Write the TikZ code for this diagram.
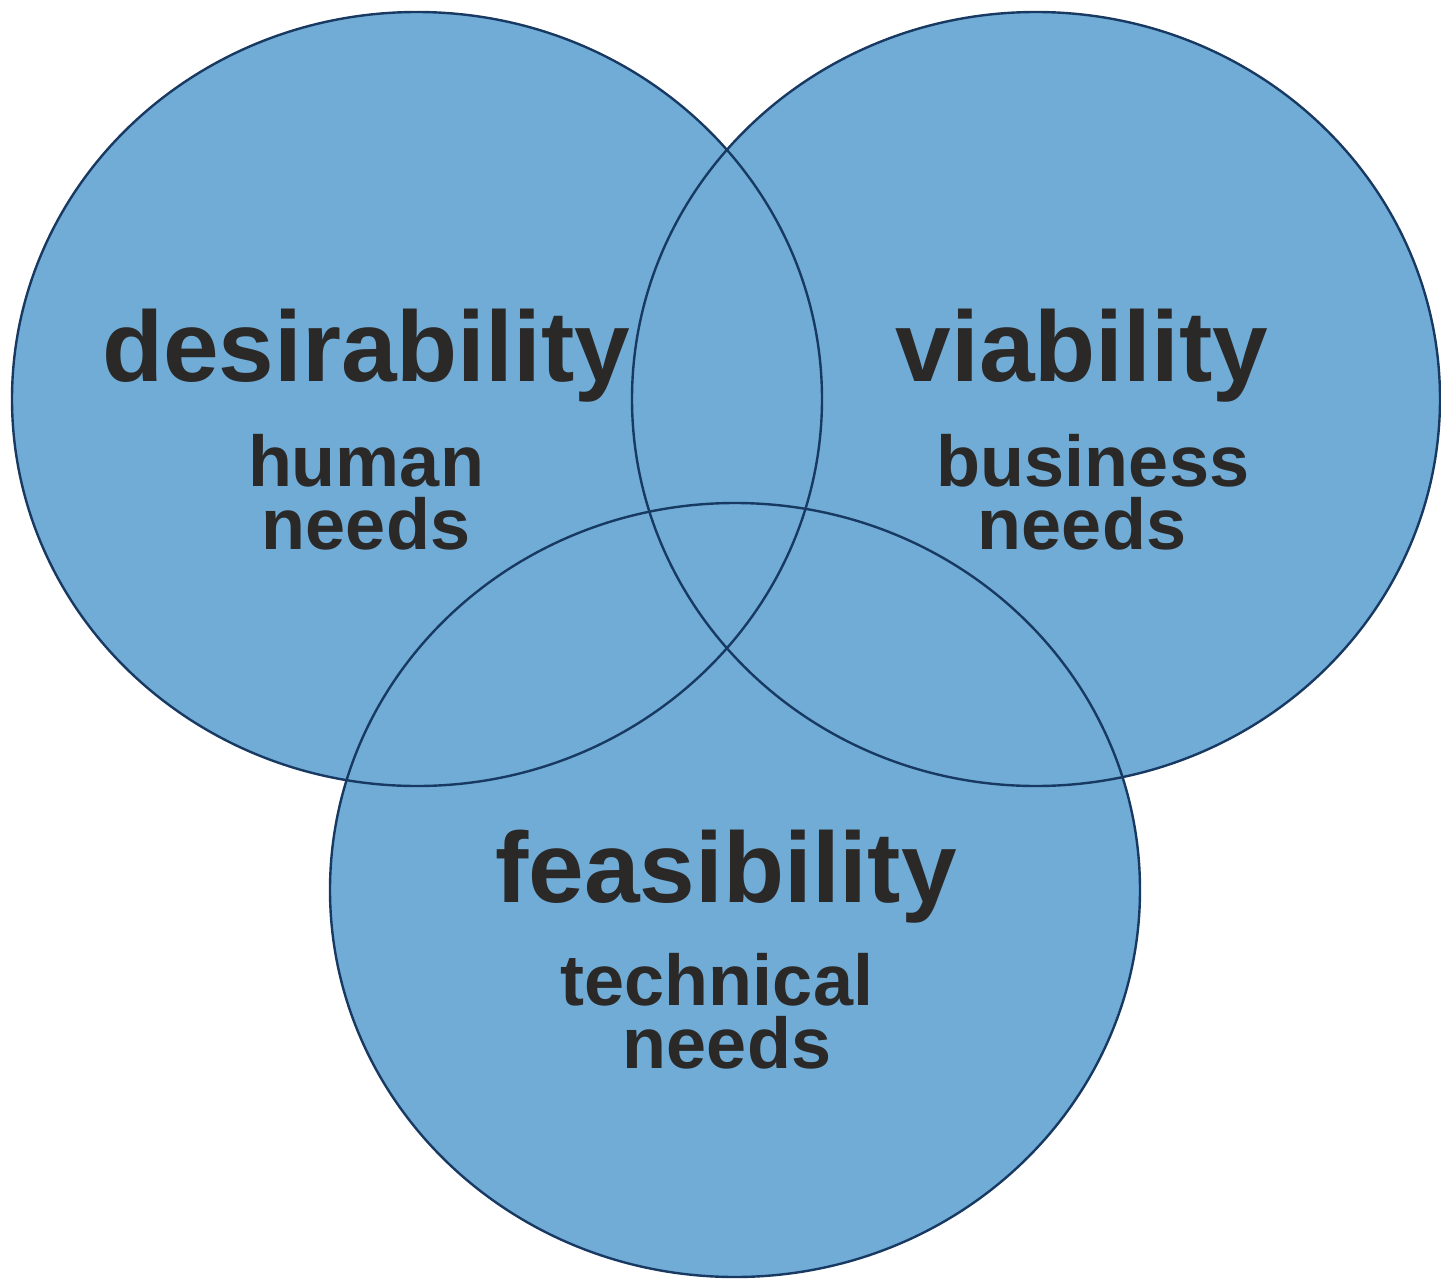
\documentclass[tikz,border=0pt]{standalone}
\usepackage{fontspec}
\setmainfont{Liberation Sans}
\definecolor{vennfill}{RGB}{112,172,214}
\definecolor{vennline}{RGB}{24,58,98}
\definecolor{txt}{RGB}{43,41,40}
\begin{document}
\begin{tikzpicture}[x=1pt,y=-1pt,
  big/.style={font=\fontsize{100}{100}\selectfont\bfseries, text=txt, inner sep=0pt, anchor=base},
  small/.style={font=\fontsize{72}{63}\selectfont\bfseries, text=txt, inner sep=0pt, anchor=base, align=center},
  ring/.style={draw=vennline, line width=2.4pt}]
\useasboundingbox[fill=white] (0,0) rectangle (1441,1280);
% fills
\fill[vennfill] (417,399) ellipse [x radius=405, y radius=387];
\fill[vennfill] (1036,399) ellipse [x radius=404, y radius=387];
\fill[vennfill] (735,890) ellipse [x radius=405, y radius=387];
% outlines
\path[ring] (417,399) ellipse [x radius=405, y radius=387];
\path[ring] (1036,399) ellipse [x radius=404, y radius=387];
\path[ring] (735,890) ellipse [x radius=405, y radius=387];
% labels (small nodes are placed by the baseline of their last line)
\node[big] (des) at (366,381) {desirability};
\node[small] (desneeds) at (366,549) {human\\needs};
\node[big] (via) at (1082,381) {viability};
\node[small] (vianeeds) at (1093,549) {business\\\hspace*{-22pt}needs};
\node[big] (fea) at (726,902) {feasibility};
\node[small] (feaneeds) at (717,1068) {technical\\\hspace*{20pt}needs};
\end{tikzpicture}
\end{document}
